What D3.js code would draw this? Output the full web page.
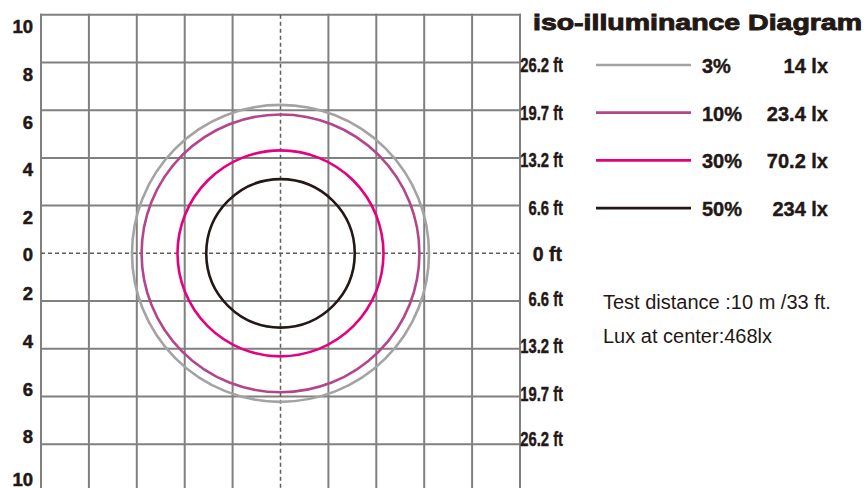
<!DOCTYPE html>
<html>
<head>
<meta charset="utf-8">
<script src="https://cdn.jsdelivr.net/npm/d3@7"></script>
<style>
  html, body { margin: 0; padding: 0; background: #fff; }
  svg { display: block; font-family: "Liberation Sans", Arial, sans-serif; }
</style>
</head>
<body>
<div id="chart"></div>
<script>
// grid ticks in metres (left axis shows absolute values)
const gridTicks = [10, 8, 6, 4, 2, 0, -2, -4, -6, -8, -10];
const ftTicks = [8, 6, 4, 2, 0, -2, -4, -6, -8];
const ftLabels = ['26.2 ft', '19.7 ft', '13.2 ft', '6.6 ft', '0 ft', '6.6 ft', '13.2 ft', '19.7 ft', '26.2 ft'];

// iso-illuminance curves
const levels = ['3%', '10%', '30%', '50%'];
const luxLabels = ['14 lx', '23.4 lx', '70.2 lx', '234 lx'];
const radii = [6.2, 5.8, 4.3, 3.1];
const colors = ['#a3a3a3', '#b4458b', '#e4007f', '#231815'];
const legendRows = [8, 6, 4, 2];

const notes = ['Test distance :10 m /33 ft.', 'Lux at center:468lx'];

const width = 867, height = 488;
const ink = '#231815';

const svg = d3.select('#chart').append('svg')
  .attr('width', width)
  .attr('height', height);

const x = d3.scaleLinear().domain([-10, 10]).range([41, 520]);
const y = d3.scaleLinear().domain([10, -10]).range([14.7, 492]);

const grid = svg.append('g').attr('stroke', '#808080').attr('stroke-width', 2);

// solid grid lines (center ones are dashed)
grid.selectAll('line.v')
  .data(gridTicks.filter(d => d !== 0))
  .join('line')
  .attr('x1', d => x(d)).attr('x2', d => x(d))
  .attr('y1', y(10) - 1).attr('y2', height);

grid.selectAll('line.h')
  .data(gridTicks.filter(d => d !== 0))
  .join('line')
  .attr('class', 'h')
  .attr('x1', x(-10) - 1).attr('x2', x(10) + 1)
  .attr('y1', d => y(d)).attr('y2', d => y(d));

const dash = svg.append('g')
  .attr('stroke', '#5e5e5e')
  .attr('stroke-width', 1.5)
  .attr('stroke-dasharray', '4,3');

dash.append('line')
  .attr('x1', x(0)).attr('x2', x(0))
  .attr('y1', y(10)).attr('y2', height);
dash.append('line')
  .attr('x1', x(-10)).attr('x2', x(10))
  .attr('y1', y(0)).attr('y2', y(0));

// circles
svg.append('g')
  .selectAll('circle')
  .data(radii)
  .join('circle')
  .attr('cx', x(0))
  .attr('cy', y(0))
  .attr('r', d => x(d) - x(0))
  .attr('fill', 'none')
  .attr('stroke', (d, i) => colors[i])
  .attr('stroke-width', 2.6);

// heavy text helper
function heavy(sel, w) {
  return sel.attr('font-weight', 'bold')
    .attr('fill', ink)
    .attr('stroke', ink)
    .attr('stroke-width', w);
}

// left labels
svg.append('g')
  .selectAll('text')
  .data(gridTicks)
  .join('text')
  .attr('x', 33)
  .attr('y', d => y(d) + (d > 0 ? 18.5 : d === 0 ? 8 : (d === -10 ? -6.5 : -1)))
  .attr('text-anchor', 'end')
  .attr('font-size', 18.5)
  .call(heavy, 0.5)
  .text(d => Math.abs(d));

// right ft labels (condensed)
svg.append('g')
  .selectAll('text')
  .data(ftTicks)
  .join('text')
  .attr('transform', d => {
    const off = d > 0 ? 9.5 : d === 0 ? 8 : (d === -8 ? 1.5 : 4.5);
    const sx = d === 0 ? 1 : 0.76;
    return `translate(${d === 0 ? 562 : 563},${y(d) + off}) scale(${sx},1)`;
  })
  .attr('text-anchor', 'end')
  .attr('font-size', 19.5)
  .call(heavy, 0.4)
  .text((d, i) => ftLabels[i]);

// title
svg.append('text')
  .attr('x', 533)
  .attr('y', 30)
  .attr('font-size', 22)
  .attr('textLength', 329)
  .attr('lengthAdjust', 'spacingAndGlyphs')
  .call(heavy, 0.9)
  .text('iso-illuminance Diagram');

// legend
const legend = svg.append('g')
  .selectAll('g')
  .data(levels)
  .join('g')
  .attr('transform', (d, i) => `translate(0,${y(legendRows[i]) + 2.5})`);

legend.append('line')
  .attr('x1', 596).attr('x2', 691)
  .attr('stroke', (d, i) => colors[i])
  .attr('stroke-width', 2.6);

legend.append('text')
  .attr('x', 702)
  .attr('y', 8)
  .attr('font-size', 20)
  .call(heavy, 0.4)
  .text(d => d);

legend.append('text')
  .attr('x', 828)
  .attr('y', 8)
  .attr('text-anchor', 'end')
  .attr('font-size', 20)
  .call(heavy, 0.4)
  .text((d, i) => luxLabels[i]);

// notes
svg.append('g')
  .selectAll('text')
  .data(notes)
  .join('text')
  .attr('x', 603)
  .attr('y', (d, i) => 309 + i * 34)
  .attr('font-size', 20)
  .attr('fill', ink)
  .text(d => d);
</script>
</body>
</html>
